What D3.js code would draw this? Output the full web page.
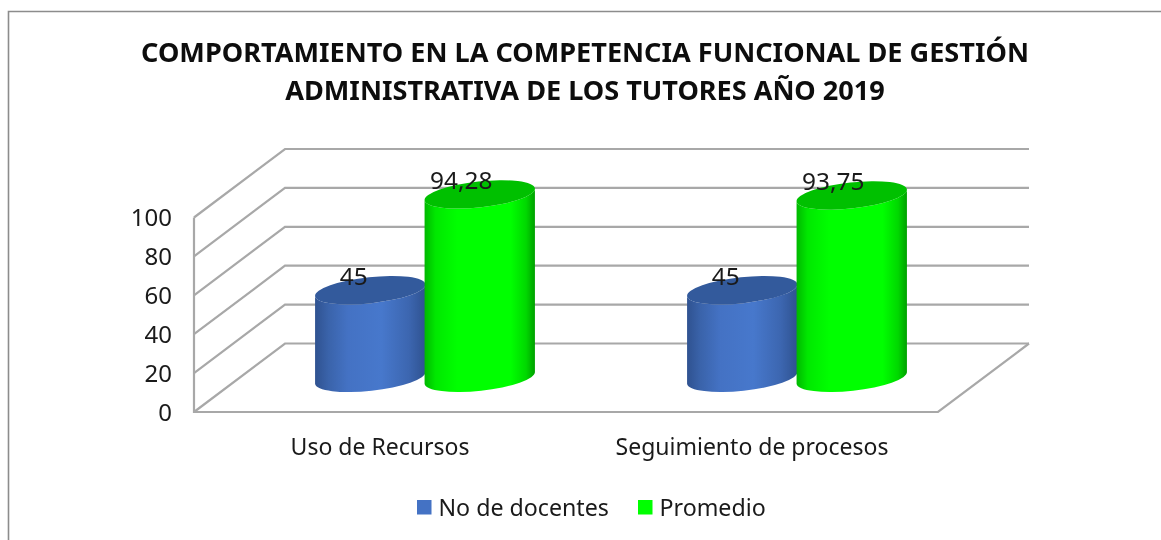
<!DOCTYPE html>
<html><head><meta charset="utf-8">
<script src="https://cdn.jsdelivr.net/npm/d3@7"></script>
<style>html,body{margin:0;padding:0;background:#fff}svg{display:block;filter:blur(0.4px)}text{font-family:"Noto Sans",sans-serif}</style>
</head><body><div id="c"></div>
<script>
const titleLines=["COMPORTAMIENTO EN LA COMPETENCIA FUNCIONAL DE GESTIÓN","ADMINISTRATIVA DE LOS TUTORES AÑO 2019"];
const categories=["Uso de Recursos","Seguimiento de procesos"];
const seriesNames=["No de docentes","Promedio"];
const docentes=[45,45];
const promedio=[94.28,93.75];
const labelsDocentes=["45","45"];
const labelsPromedio=["94,28","93,75"];
const ticks=[0,20,40,60,80,100];

const W=1161,H=540;
const svg=d3.select("#c").append("svg").attr("width",W).attr("height",H);
const defs=svg.append("defs");
function grad(id,stops){const g=defs.append("linearGradient").attr("id",id).attr("x1",0).attr("x2",1).attr("y1",0).attr("y2",0);
  stops.forEach(s=>g.append("stop").attr("offset",s[0]).attr("stop-color",s[1]));}
grad("gb",[[0,"#2f5290"],[.12,"#3a63aa"],[.3,"#4472c4"],[.6,"#4778cc"],[.85,"#3c66b0"],[1,"#2f5290"]]);
grad("gg",[[0,"#00b800"],[.1,"#00e800"],[.3,"#00ff00"],[.78,"#00ff00"],[.92,"#00d800"],[1,"#00a000"]]);

// frame
svg.append("path").attr("d",`M8.5,${H}V11.5H${W}`).attr("fill","none").attr("stroke","#8c8c8c").attr("stroke-width",1.6);

const x=d3.scaleBand().domain(categories).range([194,938]);
const y=d3.scaleLinear().domain([0,100]).range([412,217.5]);
const sub=d3.scaleBand().domain(seriesNames).range([-110,109]);
const depth={x:91,y:-68.5}, frac=0.5;
const grid="#a8a8a8";
const g=svg.append("g").attr("fill","none").attr("stroke",grid).attr("stroke-width",2.2);
ticks.forEach(t=>{
  g.append("path").attr("d",d3.line()([[194,y(t)],[194+depth.x,y(t)+depth.y],[1029,y(t)+depth.y]]));
});
g.append("path").attr("d",d3.line()([[194,y(100)],[194,y(0)],[938,y(0)],[1029,y(0)+depth.y]]));

svg.append("g").selectAll("text").data(ticks).join("text")
  .attr("x",172).attr("y",d=>y(d)+8.5).attr("text-anchor","end")
  .attr("font-size",24).attr("fill","#1a1a1a").text(d=>d);

const rx=55.5,ry=13,rot=-6.2;
const rad=rot*Math.PI/180;
function cyl(parent,cx,v,fill,top){
  const ybase=y(0)+depth.y*frac, ytop=y(v)+depth.y*frac;
  const dx=rx*Math.cos(rad), dy=rx*Math.sin(rad);
  const arc=(px,py,sw)=>`A${rx},${ry} ${rot} 0 ${sw} ${px},${py}`;
  parent.append("path").attr("fill",fill)
    .attr("d",`M${cx-dx},${ytop-dy}L${cx-dx},${ybase-dy}${arc(cx+dx,ybase+dy,0)}L${cx+dx},${ytop+dy}${arc(cx-dx,ytop-dy,1)}Z`);
  parent.append("ellipse").attr("rx",rx).attr("ry",ry).attr("fill",top)
    .attr("transform",`translate(${cx},${ytop}) rotate(${rot})`);
}
const bars=svg.append("g");
categories.forEach((c,i)=>{
  const cc=x(c)+x.bandwidth()/2+depth.x*frac;
  cyl(bars,cc+sub(seriesNames[0])+sub.bandwidth()/2,docentes[i],"url(#gb)","#335a9c");
  cyl(bars,cc+sub(seriesNames[1])+sub.bandwidth()/2,promedio[i],"url(#gg)","#00c000");
});
const lab=svg.append("g").attr("font-size",24.4).attr("fill","#1a1a1a").attr("text-anchor","middle");
categories.forEach((c,i)=>{
  const cc=x(c)+x.bandwidth()/2+depth.x*frac;
  lab.append("text").attr("x",cc+sub(seriesNames[0])+sub.bandwidth()/2-16.5).attr("y",y(docentes[i])+depth.y*frac-5).text(labelsDocentes[i]);
  lab.append("text").attr("x",cc+sub(seriesNames[1])+sub.bandwidth()/2-18.5).attr("y",y(promedio[i])+depth.y*frac-5.5).text(labelsPromedio[i]);
});
svg.append("g").attr("font-size",23).attr("fill","#1a1a1a").attr("text-anchor","middle")
  .selectAll("text").data(categories).join("text")
  .attr("x",d=>x(d)+x.bandwidth()/2).attr("y",455).text(d=>d);

svg.append("g").attr("font-size",27.1).attr("font-weight",700).attr("fill","#0d0d0d").attr("text-anchor","middle")
  .selectAll("text").data(titleLines).join("text")
  .attr("x",585).attr("y",(d,i)=>62+i*38).text(d=>d);

const leg=svg.append("g").attr("font-size",23.2).attr("fill","#1a1a1a");
const legX=[417,638], legC=["#4472c4","#00ff00"];
seriesNames.forEach((s,i)=>{
  leg.append("rect").attr("x",legX[i]).attr("y",500).attr("width",14.5).attr("height",14.5).attr("fill",legC[i]);
  leg.append("text").attr("x",legX[i]+21.5).attr("y",515.5).text(s);
});
</script></body></html>
